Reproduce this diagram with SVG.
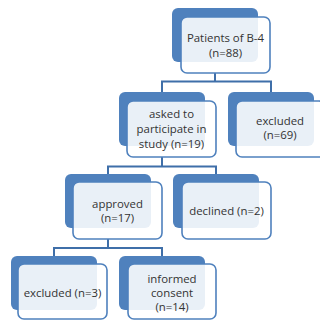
<svg xmlns="http://www.w3.org/2000/svg" width="320" height="320" viewBox="0 0 320 320">
<style>
.back{fill:#4f81bd;}
.front{fill:#ffffff;fill-opacity:0.88;stroke:#4f81bd;stroke-width:1.6;}
.conn{fill:none;stroke:#3f6fa9;stroke-width:2;}
text{font-family:"Open Sans","Liberation Sans",sans-serif;font-size:11.4px;fill:#333;text-anchor:middle;}
</style>
<rect width="320" height="320" fill="#fff"/>
<g id="connectors">
<path class="conn" d="M215 73V81.5M162 92V81.5H271V92"/>
<path class="conn" d="M162 157V166.5M108 174V166.5H216V174"/>
<path class="conn" d="M108 239V248M54 256V248H162V256"/>
</g>
<g id="n1">
<rect class="back" x="172" y="8" width="86" height="54" rx="6"/>
<rect class="front" x="181" y="17" width="89" height="56" rx="6"/>
<text x="225.5" y="42">Patients of B-4</text>
<text x="225.5" y="57">(n=88)</text>
</g>
<g id="n2">
<rect class="back" x="119" y="92" width="86" height="54" rx="6"/>
<rect class="front" x="127" y="101" width="89" height="56" rx="6"/>
<text x="171.5" y="118">asked to</text>
<text x="171.5" y="133">participate in</text>
<text x="171.5" y="148">study (n=19)</text>
</g>
<g id="n3">
<rect class="back" x="228" y="92" width="86" height="54" rx="6"/>
<rect class="front" x="236" y="101" width="89" height="56" rx="6"/>
<text x="280" y="125">excluded</text>
<text x="280" y="139">(n=69)</text>
</g>
<g id="n4">
<rect class="back" x="65" y="174" width="86" height="54" rx="6"/>
<rect class="front" x="73" y="182" width="89" height="57" rx="6"/>
<text x="117.5" y="208">approved</text>
<text x="117.5" y="222">(n=17)</text>
</g>
<g id="n5">
<rect class="back" x="173" y="174" width="86" height="54" rx="6"/>
<rect class="front" x="182" y="182" width="89" height="57" rx="6"/>
<text x="226.5" y="215">declined (n=2)</text>
</g>
<g id="n6">
<rect class="back" x="11" y="256" width="86" height="54" rx="6"/>
<rect class="front" x="18" y="264" width="89" height="55" rx="6"/>
<text x="62.5" y="297">excluded (n=3)</text>
</g>
<g id="n7">
<rect class="back" x="119" y="256" width="86" height="54" rx="6"/>
<rect class="front" x="128" y="264" width="88" height="55" rx="6"/>
<text x="172" y="283">informed</text>
<text x="172" y="297">consent</text>
<text x="172" y="311">(n=14)</text>
</g>
</svg>
